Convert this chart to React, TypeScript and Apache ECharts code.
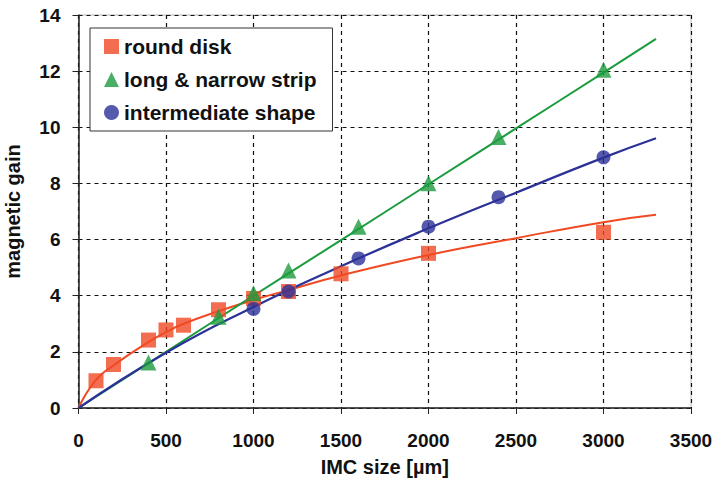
import React, { useEffect, useRef } from "react";
import * as echarts from "echarts";

// Measured points
const roundDisk: [number, number][] = [
  [100, 0.97], [200, 1.55], [400, 2.42], [500, 2.78], [600, 2.95], [800, 3.5],
  [1000, 3.9], [1200, 4.15], [1500, 4.78], [2000, 5.51], [3000, 6.26],
];
const longStrip: [number, number][] = [
  [400, 1.62], [800, 3.25], [1000, 4.09], [1200, 4.9], [1600, 6.46],
  [2000, 8.01], [2400, 9.65], [3000, 12.05],
];
const intermediate: [number, number][] = [
  [1000, 3.53], [1200, 4.15], [1600, 5.33], [2000, 6.46], [2400, 7.51], [3000, 8.93],
];

// Fitted curves
const roundDiskFit: [number, number][] = [
  [0, 0], [100, 1.0], [200, 1.52], [400, 2.35], [500, 2.7], [600, 3.0], [800, 3.45],
  [1000, 3.85], [1200, 4.2], [1500, 4.72], [2000, 5.45], [2500, 6.05], [3000, 6.62], [3300, 6.88],
];
const longStripFit: [number, number][] = [
  [0, 0], [500, 2.0], [1000, 4.0], [1500, 5.98], [2000, 7.97], [2500, 9.96], [3000, 11.95], [3300, 13.15],
];
const intermediateFit: [number, number][] = [
  [0, 0], [500, 1.97], [1000, 3.6], [1500, 5.05], [2000, 6.4], [2500, 7.67], [3000, 8.92], [3300, 9.61],
];

const xTicks = { min: 0, max: 3500, interval: 500 };
const yTicks = { min: 0, max: 14, interval: 2 };

const RED = "#F04A24";
const GREEN = "#1B9B3E";
const BLUE = "#2C3197";
const FONT = "Liberation Sans, Arial, sans-serif";

export default function App() {
  const ref = useRef<HTMLDivElement>(null);
  useEffect(() => {
    if (!ref.current) return;
    const chart = echarts.init(ref.current, undefined, { renderer: "svg" });
    chart.setOption({
      animation: false,
      backgroundColor: "#fff",
      textStyle: { fontFamily: FONT },
      grid: {
        left: 78.5, right: 21, top: 15, bottom: 83,
        containLabel: false, outerBoundsMode: "none",
        show: true, borderColor: "#b8b8b8", borderWidth: 1,
      },
      legend: {
        orient: "vertical",
        left: 90, top: 28,
        data: [
          { name: "round disk", icon: "rect" },
          { name: "long & narrow strip", icon: "triangle" },
          { name: "intermediate shape", icon: "circle" },
        ],
        itemWidth: 15, itemHeight: 15, itemGap: 12, itemTextGap: 6,
        padding: [8, 16, 8, 14],
        backgroundColor: "#fff",
        borderColor: "#333", borderWidth: 1,
        textStyle: { fontFamily: FONT, fontWeight: "bold", fontSize: 21, color: "#111" },
        itemStyle: { borderWidth: 0 },
      },
      xAxis: {
        type: "value", ...xTicks,
        name: "IMC size [µm]", nameLocation: "middle", nameGap: 49,
        nameTextStyle: { fontFamily: FONT, fontWeight: "bold", fontSize: 20, color: "#111" },
        axisLine: { onZero: false, lineStyle: { color: "#222", width: 1.5 } },
        axisTick: { show: true, length: 6, lineStyle: { color: "#222" } },
        axisLabel: {
          margin: 23, fontFamily: FONT, fontWeight: "bold", fontSize: 19, color: "#111",
          formatter: (v: number) => String(v),
        },
        splitLine: { show: true, lineStyle: { color: "#111", type: [4, 4], width: 1.2 } },
      },
      yAxis: {
        type: "value", ...yTicks,
        name: "magnetic gain", nameLocation: "middle", nameGap: 56,
        nameTextStyle: { fontFamily: FONT, fontWeight: "bold", fontSize: 20, color: "#111" },
        axisLine: { show: true, lineStyle: { color: "#222", width: 1.5 } },
        axisTick: { show: true, length: 6, lineStyle: { color: "#222" } },
        axisLabel: { margin: 18, fontFamily: FONT, fontWeight: "bold", fontSize: 19, color: "#111" },
        splitLine: { show: true, lineStyle: { color: "#111", type: [4, 4], width: 1.2 } },
      },
      series: [
        { name: "round disk fit", type: "line", data: roundDiskFit, smooth: true, showSymbol: false, lineStyle: { color: RED, width: 2 }, z: 2 },
        { name: "long strip fit", type: "line", data: longStripFit, smooth: true, showSymbol: false, lineStyle: { color: GREEN, width: 2 }, z: 2 },
        { name: "intermediate fit", type: "line", data: intermediateFit, smooth: true, showSymbol: false, lineStyle: { color: BLUE, width: 2.2 }, z: 2 },
        { name: "round disk", type: "scatter", data: roundDisk, symbol: "rect", symbolSize: 15, itemStyle: { color: RED }, z: 3 },
        { name: "long & narrow strip", type: "scatter", data: longStrip, symbol: "triangle", symbolSize: 16, itemStyle: { color: GREEN }, z: 4 },
        { name: "intermediate shape", type: "scatter", data: intermediate, symbol: "circle", symbolSize: 14, itemStyle: { color: BLUE }, z: 5 },
      ],
    });
    return () => chart.dispose();
  }, []);
  return <div ref={ref} style={{ width: 712, height: 491, position: "absolute", left: 0, top: 0 }} />;
}
